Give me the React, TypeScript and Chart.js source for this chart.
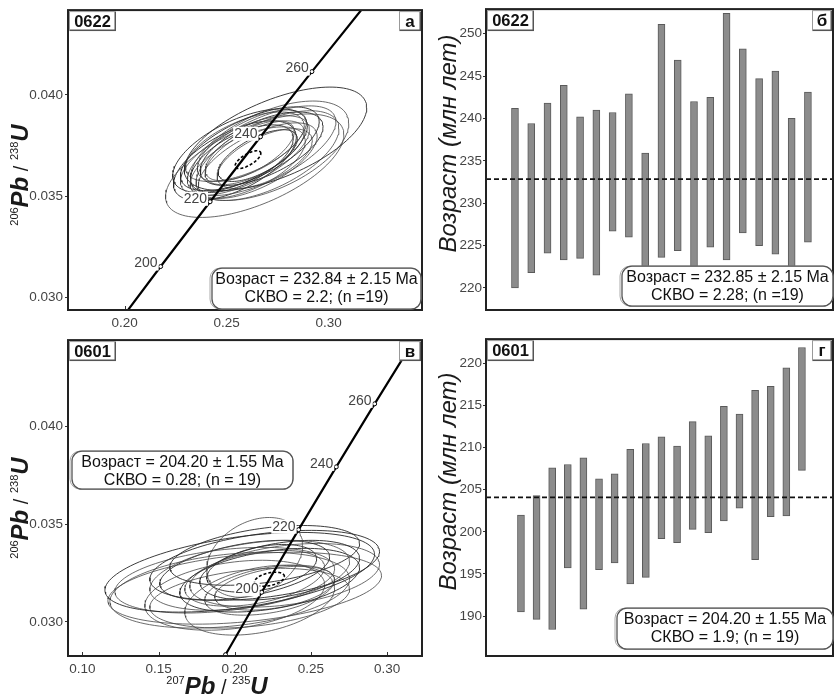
import React, { useEffect, useRef } from "react";
import { Chart, registerables } from "chart.js";

Chart.register(...registerables);

const FONT = "'Liberation Sans', Arial, sans-serif";

// ---------- Concordia reference points (age, Ma -> 207Pb/235U, 206Pb/238U) ----------
const CONC_AGES = [180, 200, 220, 240, 260, 280, 300];
const CONC_X = [0.19396, 0.2177, 0.24193, 0.26664, 0.29183, 0.31753, 0.34374];
const CONC_Y = [0.028316, 0.031511, 0.034717, 0.037932, 0.041157, 0.044392, 0.047637];
const CONC_LABELED = [200, 220, 240, 260];

// ---------- Panel а : sample 0622, concordia diagram ----------
const A_SAMPLE = "0622";
const A_LETTER = "а";
const A_X_TICKS = [0.2, 0.25, 0.3];
const A_Y_TICKS = [0.03, 0.035, 0.04];
const A_CX = [0.274, 0.2638, 0.2672, 0.2614, 0.2701, 0.259, 0.2566, 0.2653, 0.2624, 0.2672, 0.2604, 0.2638, 0.2575, 0.2687, 0.2614, 0.2653, 0.259, 0.2711, 0.2541];
const A_CY = [0.03783, 0.0365, 0.03724, 0.03734, 0.037, 0.037, 0.03724, 0.03675, 0.03749, 0.03734, 0.03665, 0.03714, 0.03685, 0.03685, 0.03724, 0.037, 0.03744, 0.03724, 0.03675];
const A_SX = [0.0447, 0.0437, 0.0364, 0.034, 0.035, 0.0316, 0.033, 0.0291, 0.0267, 0.0301, 0.0282, 0.0243, 0.0252, 0.0233, 0.0218, 0.0194, 0.0291, 0.0388, 0.0301];
const A_SY = [0.00256, 0.00256, 0.00222, 0.00207, 0.00222, 0.00197, 0.00207, 0.00187, 0.00177, 0.00182, 0.00177, 0.00158, 0.00167, 0.00148, 0.00148, 0.00128, 0.00172, 0.00246, 0.00197];
const A_RHO = [0.6, 0.6, 0.65, 0.65, 0.6, 0.65, 0.6, 0.65, 0.65, 0.6, 0.6, 0.65, 0.6, 0.6, 0.65, 0.65, 0.6, 0.55, 0.6];
const A_MEAN = [0.2605, 0.0368, 0.0063, 0.00044, 0.7];
const A_TEXT = ["Возраст = 232.84 ± 2.15 Ma", "СКВО = 2.2; (n =19)"];

// ---------- Panel в : sample 0601, concordia diagram ----------
const V_SAMPLE = "0601";
const V_LETTER = "в";
const V_X_TICKS = [0.1, 0.15, 0.2, 0.25, 0.3];
const V_Y_TICKS = [0.03, 0.035, 0.04];
const V_CX = [0.20328, 0.20655, 0.21311, 0.21966, 0.19672, 0.20983, 0.22294, 0.2, 0.21638, 0.22949, 0.21311, 0.22294, 0.20655, 0.23277, 0.19345, 0.21966, 0.22621, 0.20983, 0.21769];
const V_CY = [0.032536, 0.03172, 0.0333, 0.03289, 0.03162, 0.03238, 0.03213, 0.03136, 0.03111, 0.03264, 0.03223, 0.03162, 0.03264, 0.03238, 0.03213, 0.0334, 0.03172, 0.03121, 0.03274];
const V_SX = [0.08847, 0.08978, 0.03145, 0.07536, 0.07864, 0.06553, 0.05898, 0.05898, 0.04915, 0.05242, 0.04587, 0.04259, 0.0557, 0.06225, 0.07208, 0.06225, 0.03932, 0.06553, 0.03604];
const V_SY = [0.00204, 0.00184, 0.00204, 0.00179, 0.00194, 0.00179, 0.00163, 0.00179, 0.00179, 0.00153, 0.00143, 0.00128, 0.00153, 0.00163, 0.00168, 0.00153, 0.00112, 0.00153, 0.00122];
const V_RHO = [0.45, 0.35, 0.3, 0.4, 0.3, 0.4, 0.4, 0.3, 0.35, 0.4, 0.4, 0.4, 0.45, 0.35, 0.35, 0.4, 0.4, 0.3, 0.4];
const V_MEAN = [0.2228, 0.03218, 0.0098, 0.00036, 0.4];
const V_TEXT = ["Возраст = 204.20 ± 1.55 Ma", "СКВО = 0.28; (n = 19)"];

// ---------- Panel б : sample 0622, single-grain ages ----------
const B_SAMPLE = "0622";
const B_LETTER = "б";
const B_Y_TICKS = [220, 225, 230, 235, 240, 245, 250];
const B_LOW = [220.0, 221.8, 224.1, 223.3, 223.5, 221.5, 226.7, 226.0, 222.5, 223.6, 224.4, 222.0, 224.8, 223.3, 226.5, 225.0, 224.0, 222.0, 225.4];
const B_HIGH = [241.2, 239.4, 241.8, 243.9, 240.2, 241.0, 240.7, 242.9, 235.9, 251.1, 246.9, 242.0, 242.5, 252.4, 248.2, 244.7, 245.6, 240.0, 243.1];
const B_MEAN = 232.85;
const B_TEXT = ["Возраст = 232.85 ± 2.15 Ma", "СКВО = 2.28; (n =19)"];

// ---------- Panel г : sample 0601, single-grain ages ----------
const G_SAMPLE = "0601";
const G_LETTER = "г";
const G_Y_TICKS = [190, 195, 200, 205, 210, 215, 220];
const G_LOW = [190.5, 189.6, 188.4, 195.7, 190.8, 195.5, 196.3, 193.8, 194.6, 199.2, 198.7, 200.3, 199.9, 201.3, 202.8, 196.7, 201.8, 201.9, 207.3];
const G_HIGH = [202.0, 204.3, 207.6, 208.0, 208.8, 206.3, 206.9, 209.8, 210.5, 211.3, 210.2, 213.1, 211.4, 214.9, 214.0, 216.8, 217.3, 219.5, 221.9];
const G_MEAN = 204.1;
const G_TEXT = ["Возраст = 204.20 ± 1.55 Ma", "СКВО = 1.9; (n = 19)"];

const Y_TITLE_AGE = "Возраст (млн лет)";

// ---------- helpers ----------
function ellipse(cx: number, cy: number, sx: number, sy: number, rho: number, n = 120) {
  const pts: { x: number; y: number }[] = [];
  const k = Math.sqrt(1 - rho * rho);
  for (let i = 0; i <= n; i++) {
    const t = (i / n) * 2 * Math.PI;
    pts.push({ x: cx + sx * Math.cos(t), y: cy + sy * (rho * Math.cos(t) + k * Math.sin(t)) });
  }
  return pts;
}

function rr(ctx: CanvasRenderingContext2D, x: number, y: number, w: number, h: number, r: number) {
  ctx.beginPath();
  ctx.moveTo(x + r, y);
  ctx.lineTo(x + w - r, y);
  ctx.arcTo(x + w, y, x + w, y + r, r);
  ctx.lineTo(x + w, y + h - r);
  ctx.arcTo(x + w, y + h, x + w - r, y + h, r);
  ctx.lineTo(x + r, y + h);
  ctx.arcTo(x, y + h, x, y + h - r, r);
  ctx.lineTo(x, y + r);
  ctx.arcTo(x, y, x + r, y, r);
  ctx.closePath();
}

function drawFrame(ctx: CanvasRenderingContext2D, a: any) {
  ctx.save();
  ctx.strokeStyle = "#222";
  ctx.lineWidth = 2;
  ctx.strokeRect(a.left, a.top, a.right - a.left, a.bottom - a.top);
  ctx.restore();
}

function drawTag(ctx: CanvasRenderingContext2D, x: number, y: number, w: number, h: number, text: string, size: number) {
  ctx.save();
  ctx.fillStyle = "#fff";
  ctx.fillRect(x, y, w, h);
  ctx.strokeStyle = "#999";
  ctx.lineWidth = 1;
  ctx.strokeRect(x + 0.5, y + 0.5, w - 1, h - 1);
  ctx.strokeStyle = "#555";
  ctx.lineWidth = 1.5;
  ctx.beginPath();
  ctx.moveTo(x + w - 0.75, y + 1);
  ctx.lineTo(x + w - 0.75, y + h - 0.75);
  ctx.lineTo(x + 1, y + h - 0.75);
  ctx.stroke();
  ctx.fillStyle = "#111";
  ctx.font = `bold ${size}px ${FONT}`;
  ctx.textAlign = "center";
  ctx.textBaseline = "middle";
  ctx.fillText(text, x + w / 2, y + h / 2 + 1);
  ctx.restore();
}

function drawResultBox(ctx: CanvasRenderingContext2D, a: any, rect: number[], lines: string[]) {
  const x = a.left + rect[0];
  const y = a.top + rect[1];
  const w = rect[2];
  const h = rect[3];
  ctx.save();
  ctx.fillStyle = "#fff";
  rr(ctx, x - 2, y, w + 2, h, 10);
  ctx.fill();
  ctx.strokeStyle = "#aaa";
  ctx.lineWidth = 1;
  rr(ctx, x - 2, y, w + 2, h, 10);
  ctx.stroke();
  ctx.strokeStyle = "#555";
  ctx.lineWidth = 1.3;
  rr(ctx, x, y, w, h, 10);
  ctx.stroke();
  ctx.fillStyle = "#111";
  ctx.font = `16px ${FONT}`;
  ctx.textAlign = "center";
  ctx.textBaseline = "middle";
  ctx.fillText(lines[0], x + w / 2, y + 11.5);
  ctx.fillText(lines[1], x + w / 2, y + 29);
  ctx.restore();
}

type Part = { t: string; f: string; dy: number };
function drawRich(ctx: CanvasRenderingContext2D, parts: Part[], cx: number, cy: number, rotate: boolean) {
  ctx.save();
  ctx.translate(cx, cy);
  if (rotate) ctx.rotate(-Math.PI / 2);
  ctx.textBaseline = "alphabetic";
  ctx.textAlign = "left";
  ctx.fillStyle = "#1a1a1a";
  const widths = parts.map((p) => {
    ctx.font = p.f;
    return ctx.measureText(p.t).width;
  });
  const total = widths.reduce((s, v) => s + v, 0);
  let x = -total / 2;
  parts.forEach((p, i) => {
    ctx.font = p.f;
    ctx.fillText(p.t, x, p.dy);
    x += widths[i];
  });
  ctx.restore();
}

function isoParts(top: string, bottom: string): Part[] {
  const big = `italic bold 24px ${FONT}`;
  const sup = `11px ${FONT}`;
  return [
    { t: top.slice(0, 3), f: sup, dy: -10 },
    { t: "Pb", f: big, dy: 0 },
    { t: " / ", f: `20px ${FONT}`, dy: 0 },
    { t: bottom.slice(0, 3), f: sup, dy: -10 },
    { t: "U", f: big, dy: 0 },
  ];
}

// ---------- chart builders ----------
type ConcCfg = {
  xMin: number; xMax: number; yMin: number; yMax: number;
  xTicks: number[]; yTicks: number[];
  cx: number[]; cy: number[]; sx: number[]; sy: number[]; rho: number[];
  mean: number[];
  sample: string; letter: string; text: string[];
  boxRect: number[];
  xAxisH: number; padTop: number; padRight: number;
  yTitleDy: number; xTitle: boolean;
};

function makeConcordia(c: ConcCfg): any {
  const datasets: any[] = [];
  datasets.push({
    label: "concordia",
    data: CONC_X.map((x, i) => ({ x, y: CONC_Y[i] })),
    showLine: true,
    borderColor: "#000",
    borderWidth: 2.2,
    pointRadius: 2,
    pointBackgroundColor: "#fff",
    pointBorderColor: "#000",
    pointBorderWidth: 1,
    order: 0,
  });
  datasets.push({
    label: "mean",
    data: ellipse(c.mean[0], c.mean[1], c.mean[2], c.mean[3], c.mean[4]),
    showLine: true,
    borderColor: "#000",
    borderWidth: 1.6,
    borderDash: [3, 2],
    pointRadius: 0,
    order: 1,
  });
  c.cx.forEach((x, i) => {
    datasets.push({
      label: "e" + i,
      data: ellipse(x, c.cy[i], c.sx[i], c.sy[i], c.rho[i]),
      showLine: true,
      borderColor: i % 3 === 0 ? "rgba(40,40,40,0.9)" : "rgba(70,70,70,0.8)",
      borderWidth: 1,
      pointRadius: 0,
      order: 2,
    });
  });

  const deco = {
    id: "deco",
    afterDatasetsDraw(chart: any) {
      const { ctx, chartArea: a, scales } = chart;
      const xs = scales.x;
      const ys = scales.y;
      ctx.save();
      ctx.strokeStyle = "#333";
      ctx.lineWidth = 1;
      c.xTicks.forEach((v) => {
        const px = Math.round(xs.getPixelForValue(v)) + 0.5;
        ctx.beginPath();
        ctx.moveTo(px, a.bottom);
        ctx.lineTo(px, a.bottom - 4);
        ctx.stroke();
      });
      ctx.restore();
      ctx.save();
      ctx.beginPath();
      ctx.rect(a.left, a.top, a.right - a.left, a.bottom - a.top);
      ctx.clip();
      ctx.font = `14px ${FONT}`;
      ctx.textAlign = "right";
      ctx.textBaseline = "middle";
      CONC_LABELED.forEach((age) => {
        const i = CONC_AGES.indexOf(age);
        const px = xs.getPixelForValue(CONC_X[i]);
        const py = ys.getPixelForValue(CONC_Y[i]);
        const label = String(age);
        const w = ctx.measureText(label).width;
        ctx.fillStyle = "#fff";
        ctx.fillRect(px - 4 - w, py - 10, w + 2, 14);
        ctx.fillStyle = "#444";
        ctx.fillText(label, px - 3, py - 3);
      });
      ctx.restore();
      drawFrame(ctx, a);
      drawTag(ctx, a.left + 1, a.top + 1, 47, 20, c.sample, 16.5);
      drawTag(ctx, a.right - 23, a.top + 1, 22, 20, c.letter, 17);
      drawResultBox(ctx, a, c.boxRect, c.text);
      drawRich(ctx, isoParts("206", "238"), a.left - 40, (a.top + a.bottom) / 2 + c.yTitleDy, true);
      if (c.xTitle) {
        drawRich(ctx, isoParts("207", "235"), a.left + 149, a.bottom + 38, false);
      }
    },
  };

  return {
    type: "scatter",
    data: { datasets },
    plugins: [deco],
    options: {
      animation: false,
      responsive: false,
      maintainAspectRatio: false,
      devicePixelRatio: 1,
      layout: { padding: { left: 0, top: c.padTop, right: c.padRight, bottom: 0 } },
      plugins: { legend: { display: false }, tooltip: { enabled: false } },
      scales: {
        x: {
          type: "linear",
          min: c.xMin,
          max: c.xMax,
          afterBuildTicks: (s: any) => {
            s.ticks = c.xTicks.map((v) => ({ value: v }));
          },
          afterFit: (s: any) => {
            s.height = c.xAxisH;
          },
          grid: { display: false, drawTicks: false },
          border: { display: false },
          ticks: {
            autoSkip: false,
            maxRotation: 0,
            padding: 5,
            color: "#444",
            font: { family: FONT, size: 13.5 },
            callback: (v: any) => Number(v).toFixed(2),
          },
        },
        y: {
          type: "linear",
          min: c.yMin,
          max: c.yMax,
          afterBuildTicks: (s: any) => {
            s.ticks = c.yTicks.map((v) => ({ value: v }));
          },
          afterFit: (s: any) => {
            s.width = 68;
          },
          grid: { drawOnChartArea: false, drawTicks: true, tickLength: 3, color: "#333" },
          border: { display: false },
          ticks: {
            autoSkip: false,
            padding: 2,
            color: "#444",
            font: { family: FONT, size: 13.5 },
            callback: (v: any) => Number(v).toFixed(3),
          },
        },
      },
    },
  };
}

type AgeCfg = {
  low: number[]; high: number[]; mean: number;
  xMin: number; xMax: number; yMin: number; yMax: number; yTicks: number[];
  sample: string; letter: string; text: string[]; boxRect: number[];
  padTop: number; padBottom: number;
};

function makeAges(c: AgeCfg): any {
  const deco = {
    id: "deco",
    afterDatasetsDraw(chart: any) {
      const { ctx, chartArea: a } = chart;
      drawFrame(ctx, a);
      drawTag(ctx, a.left + 1, a.top + 1, 47, 21, c.sample, 16.5);
      drawTag(ctx, a.right - 21, a.top + 1, 20, 21, c.letter, 17);
      drawResultBox(ctx, a, c.boxRect, c.text);
      ctx.save();
      ctx.translate(a.left - 30, (a.top + a.bottom) / 2 - 16);
      ctx.rotate(-Math.PI / 2);
      ctx.font = `italic 24px ${FONT}`;
      ctx.fillStyle = "#1a1a1a";
      ctx.textAlign = "center";
      ctx.textBaseline = "alphabetic";
      ctx.fillText(Y_TITLE_AGE, 0, 0);
      ctx.restore();
    },
  };
  return {
    type: "bar",
    data: {
      datasets: [
        {
          type: "line",
          data: [
            { x: c.xMin, y: c.mean },
            { x: c.xMax, y: c.mean },
          ],
          borderColor: "#111",
          borderWidth: 1.8,
          borderDash: [5, 3],
          pointRadius: 0,
          order: 0,
        },
        {
          type: "bar",
          data: c.low.map((lo, i) => ({ x: i + 1, y: [lo, c.high[i]] })),
          backgroundColor: "#8c8c8c",
          borderColor: "#5a5a5a",
          borderWidth: 1,
          borderSkipped: false,
          barThickness: 7,
          order: 1,
        },
      ],
    },
    plugins: [deco],
    options: {
      animation: false,
      responsive: false,
      maintainAspectRatio: false,
      devicePixelRatio: 1,
      layout: { padding: { left: 0, top: c.padTop, right: 2, bottom: c.padBottom } },
      plugins: { legend: { display: false }, tooltip: { enabled: false } },
      scales: {
        x: { type: "linear", min: c.xMin, max: c.xMax, offset: false, display: false },
        y: {
          type: "linear",
          min: c.yMin,
          max: c.yMax,
          afterBuildTicks: (s: any) => {
            s.ticks = c.yTicks.map((v) => ({ value: v }));
          },
          afterFit: (s: any) => {
            s.width = 58;
          },
          grid: { drawOnChartArea: false, drawTicks: true, tickLength: 3, color: "#333" },
          border: { display: false },
          ticks: {
            autoSkip: false,
            padding: 1,
            color: "#444",
            font: { family: FONT, size: 13.5 },
            callback: (v: any) => String(Math.round(Number(v))),
          },
        },
      },
    },
  };
}

function Panel(props: { left: number; top: number; width: number; height: number; make: () => any }) {
  const ref = useRef<HTMLCanvasElement>(null);
  useEffect(() => {
    const chart = new Chart(ref.current as HTMLCanvasElement, props.make());
    return () => chart.destroy();
  }, []);
  return (
    <canvas
      ref={ref}
      width={props.width}
      height={props.height}
      style={{ position: "absolute", left: props.left, top: props.top, width: props.width, height: props.height }}
    />
  );
}

export default function App() {
  return (
    <div style={{ position: "absolute", left: 0, top: 0, width: 835, height: 698, background: "#fff", overflow: "hidden" }}>
      <Panel
        left={0}
        top={0}
        width={428}
        height={330}
        make={() =>
          makeConcordia({
            xMin: 0.1723, xMax: 0.3458, yMin: 0.02936, yMax: 0.0442,
            xTicks: A_X_TICKS, yTicks: A_Y_TICKS,
            cx: A_CX, cy: A_CY, sx: A_SX, sy: A_SY, rho: A_RHO, mean: A_MEAN,
            sample: A_SAMPLE, letter: A_LETTER, text: A_TEXT,
            boxRect: [144, 258, 209, 41],
            xAxisH: 20, padTop: 9, padRight: 6, yTitleDy: 15, xTitle: false,
          })
        }
      />
      <Panel
        left={0}
        top={330}
        width={428}
        height={368}
        make={() =>
          makeConcordia({
            xMin: 0.0906, xMax: 0.3229, yMin: 0.02825, yMax: 0.04442,
            xTicks: V_X_TICKS, yTicks: V_Y_TICKS,
            cx: V_CX, cy: V_CY, sx: V_SX, sy: V_SY, rho: V_RHO, mean: V_MEAN,
            sample: V_SAMPLE, letter: V_LETTER, text: V_TEXT,
            boxRect: [4, 111, 221, 38],
            xAxisH: 42, padTop: 9, padRight: 6, yTitleDy: 10, xTitle: true,
          })
        }
      />
      <Panel
        left={428}
        top={0}
        width={407}
        height={330}
        make={() =>
          makeAges({
            low: B_LOW, high: B_HIGH, mean: B_MEAN,
            xMin: -0.78, xMax: 20.54, yMin: 217.4, yMax: 252.9, yTicks: B_Y_TICKS,
            sample: B_SAMPLE, letter: B_LETTER, text: B_TEXT,
            boxRect: [136, 257, 211, 40],
            padTop: 8, padBottom: 20,
          })
        }
      />
      <Panel
        left={428}
        top={330}
        width={407}
        height={368}
        make={() =>
          makeAges({
            low: G_LOW, high: G_HIGH, mean: G_MEAN,
            xMin: -1.24, xMax: 20.99, yMin: 185.25, yMax: 222.9, yTicks: G_Y_TICKS,
            sample: G_SAMPLE, letter: G_LETTER, text: G_TEXT,
            boxRect: [131, 269, 216, 41],
            padTop: 9, padBottom: 42,
          })
        }
      />
    </div>
  );
}
